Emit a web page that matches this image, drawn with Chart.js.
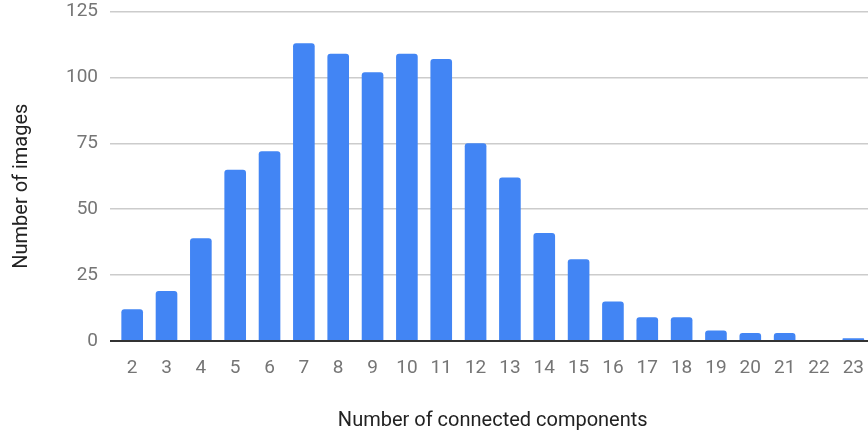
<!DOCTYPE html>
<html>
<head>
<meta charset="utf-8">
<script src="https://cdn.jsdelivr.net/npm/chart.js@4/dist/chart.umd.min.js"></script>
<style>
  html, body { margin: 0; padding: 0; background: #fff; overflow: hidden; }
  /* a bit taller than the window and pulled up, so the plot top lands at y=10 */
  #wrap { width: 872px; height: 446px; margin-top: -10px; }
</style>
</head>
<body>
<div id="wrap"><canvas id="chart"></canvas></div>
<script>
// component counts on the x axis
const components = ['2', '3', '4', '5', '6', '7', '8', '9', '10', '11', '12',
  '13', '14', '15', '16', '17', '18', '19', '20', '21', '22', '23'];
// number of images for each count
const imageCounts = [12, 19, 39, 65, 72, 113, 109, 102, 109, 107, 75,
  62, 41, 31, 15, 9, 9, 4, 3, 3, 0, 1];
const yTicks = [0, 25, 50, 75, 100, 125];

const ctx = document.getElementById('chart').getContext('2d');
new Chart(ctx, {
    type: 'bar',
    data: {
        labels: components,
        datasets: [{
            data: imageCounts,
            backgroundColor: '#4285f4',
            borderRadius: 3,
            barPercentage: 0.63,
            categoryPercentage: 1
        }]
    },
    options: {
        responsive: true,
        maintainAspectRatio: false,
        animation: false,
        layout: { padding: 0 },
        plugins: {
            legend: { display: false },
            tooltip: { enabled: false }
        },
        scales: {
            x: {
                grid: { display: false },
                border: { display: false },
                ticks: {
                    color: '#757575',
                    font: { family: 'Roboto', size: 19 },
                    padding: 8,
                    maxRotation: 0,
                    autoSkip: false
                },
                title: {
                    display: true,
                    text: 'Number of connected components',
                    color: '#222',
                    font: { family: 'Roboto', size: 20 },
                    padding: { top: 0, bottom: 3 }
                },
                afterFit: scale => { scale.height = 95; }
            },
            y: {
                min: 0,
                max: 125,
                afterBuildTicks: scale => {
                    scale.ticks = yTicks.map(v => ({ value: v }));
                },
                grid: {
                    color: c => c.tick && c.tick.value === 0 ? '#333' : '#cccccc',
                    lineWidth: c => c.tick && c.tick.value === 0 ? 2 : 1.5,
                    tickLength: 5
                },
                border: { display: false },
                ticks: {
                    color: '#757575',
                    font: { family: 'Roboto', size: 19, lineHeight: 1 },
                    padding: 12
                },
                title: {
                    display: true,
                    // trailing spaces nudge the centred title a little lower, like the original
                    text: 'Number of images    ',
                    color: '#222',
                    font: { family: 'Roboto', size: 20 },
                    padding: { top: 10, bottom: 0 }
                },
                afterFit: scale => { scale.width = 115; }
            }
        }
    }
});
</script>
</body>
</html>
